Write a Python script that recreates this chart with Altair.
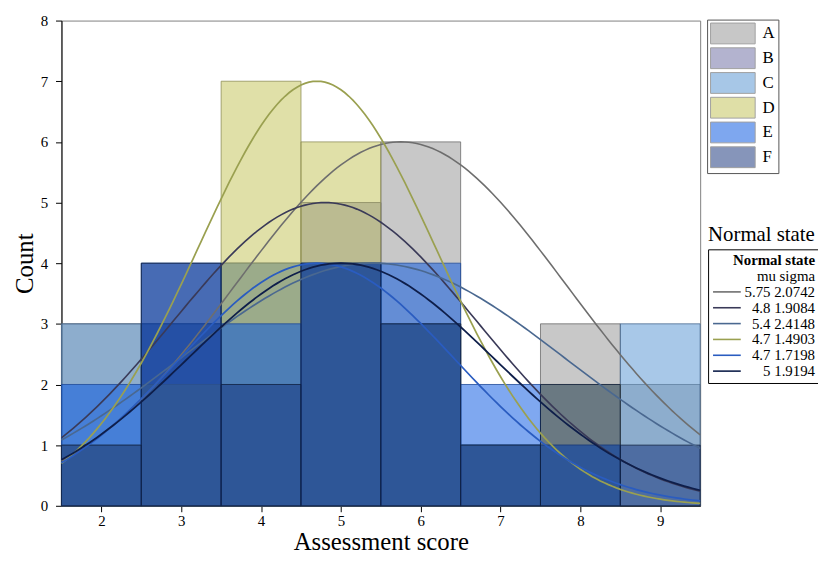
import altair as alt
import numpy as np
import pandas as pd

SERIF = "Liberation Serif"

# ---- data ----
groups = ["A", "B", "C", "D", "E", "F"]
scores = [2, 3, 4, 5, 6, 7, 8, 9]
counts_A = [3, 3, 4, 4, 6, 1, 3, 2]
counts_B = [1, 3, 4, 5, 3, 1, 1, 0]
counts_C = [3, 3, 4, 4, 3, 1, 1, 3]
counts_D = [1, 2, 7, 6, 3, 1, 2, 0]
counts_E = [2, 4, 3, 4, 4, 2, 1, 0]
counts_F = [1, 4, 2, 4, 3, 1, 2, 1]

# normal fit parameters (from the "Normal state" table) and curve peak heights
mu = [5.75, 4.8, 5.4, 4.7, 4.7, 5.0]
sigma = [2.0742, 1.9084, 2.4148, 1.4903, 1.7198, 1.9194]
peak = [6.0, 5.0, 4.0, 7.0, 4.0, 4.0]
fit_labels = ["5.75 2.0742", "4.8 1.9084", "5.4 2.4148",
              "4.7 1.4903", "4.7 1.7198", "5 1.9194"]
header_label = "mu  sigma"

fill_colors = ["#919191", "#6969a1", "#5191d1", "#c1c151", "#0051e1", "#0f2d78"]
bar_strokes = ["#6a6a6a", "#505070", "#4a6a90", "#8f8f58", "#1f4a98", "#0f2040"]
line_colors = ["#6e6e6e", "#3a3a58", "#4a6890", "#9aa050", "#2a5cc0", "#0e1e4a"]
line_widths = [1.6, 1.8, 1.6, 1.6, 1.6, 2.2]

all_counts = [counts_A, counts_B, counts_C, counts_D, counts_E, counts_F]
bar_rows = []
for g, cs in zip(groups, all_counts):
    for s, c in zip(scores, cs):
        if c > 0:
            bar_rows.append({"group": g, "score": s, "count": c})
bars_df = pd.DataFrame(bar_rows)

xs = np.linspace(1.5, 9.5, 161)
curve_rows = []
for i, lab in enumerate(fit_labels):
    ys = peak[i] * np.exp(-((xs - mu[i]) ** 2) / (2 * sigma[i] ** 2))
    for xv, yv in zip(xs, ys):
        curve_rows.append({"label": lab, "x": float(xv), "y": float(yv), "k": i})
curves_df = pd.DataFrame(curve_rows)

xscale = alt.Scale(domain=[1.5, 9.5], nice=False, zero=False)
yscale = alt.Scale(domain=[0, 8], nice=False)

yaxis = alt.Axis(
    values=[v / 2 for v in range(0, 17)],
    format="d",
    labelExpr="datum.value % 1 === 0 ? datum.label : ''",
    tickSize={"condition": {"test": "datum.value % 1 === 0", "value": 6}, "value": 3},
    labelPadding=8, titlePadding=3, grid=False,
)
xaxis = alt.Axis(values=scores, format="d", tickSize=6, labelPadding=2, titlePadding=1, grid=False)

bars = alt.Chart(bars_df).transform_calculate(
    lo="datum.score - 0.5", hi="datum.score + 0.5"
).mark_rect(fillOpacity=0.5, strokeWidth=1, strokeOpacity=0.8).encode(
    x=alt.X("lo:Q", scale=xscale, axis=xaxis, title="Assessment score"),
    x2="hi:Q",
    y=alt.Y("count:Q", scale=yscale, axis=yaxis, title="Count"),
    y2=alt.datum(0),
    fill=alt.Fill(
        "group:N",
        scale=alt.Scale(domain=groups, range=fill_colors),
        legend=alt.Legend(
            title=None, orient="none", legendX=652, legendY=-1,
            symbolType="M-1,-1H3.29V1H-1Z", symbolSize=441,
            symbolStrokeColor="#444", symbolStrokeWidth=1, symbolOpacity=0.5,
            labelFont=SERIF, labelFontSize=17, labelColor="black",
            labelOffset=31, rowPadding=-1, padding=3,
            strokeColor="#555", fillColor="white",
        ),
    ),
    stroke=alt.Stroke("group:N", scale=alt.Scale(domain=groups, range=bar_strokes), legend=None),
)

lines = alt.Chart(curves_df).mark_line().encode(
    x=alt.X("x:Q", scale=xscale),
    y=alt.Y("y:Q", scale=yscale),
    stroke=alt.Stroke(
        "label:N",
        scale=alt.Scale(domain=[header_label] + fit_labels, range=["transparent"] + line_colors),
        sort=[header_label] + fit_labels,
        legend=alt.Legend(
            title="Normal state", titleFont=SERIF, titleFontSize=15, titleFontWeight="bold",
            titleColor="black", titleAnchor="end", titlePadding=0,
            orient="none", legendX=653, legendY=231,
            symbolType="M-1,0H3", symbolSize=196, symbolStrokeWidth=1.6,
            labelFont=SERIF, labelFontSize=15, labelColor="black",
            labelAlign="right", labelOffset=88,
            rowPadding=-8, padding=4, strokeColor="black", fillColor="white",
            labelLimit=200,
        ),
    ),
    strokeWidth=alt.StrokeWidth(
        "label:N", scale=alt.Scale(domain=fit_labels, range=line_widths), legend=None
    ),
    order="k:Q",
)

chart = alt.layer(bars, lines).resolve_scale(stroke="independent").properties(
    width=645, height=490,
    padding={"left": 54, "top": 10, "right": 119, "bottom": 48},
    autosize=alt.AutoSizeParams(type="none"),
    title=alt.TitleParams(
        text="Normal state", anchor="start", frame="group", orient="top",
        dx=653, dy=234, offset=0, font=SERIF, fontSize=21, fontWeight="normal",
        color="black", baseline="top",
    ),
).configure_view(stroke="#808080", strokeWidth=1).configure_axis(
    labelFont=SERIF, titleFont=SERIF, labelFontSize=15, titleFontSize=25,
    labelColor="black", titleColor="black", domainColor="black", tickColor="black",
    titleFontWeight="normal",
)

chart.save("out.html", embed_options={"renderer": "svg", "actions": False})
